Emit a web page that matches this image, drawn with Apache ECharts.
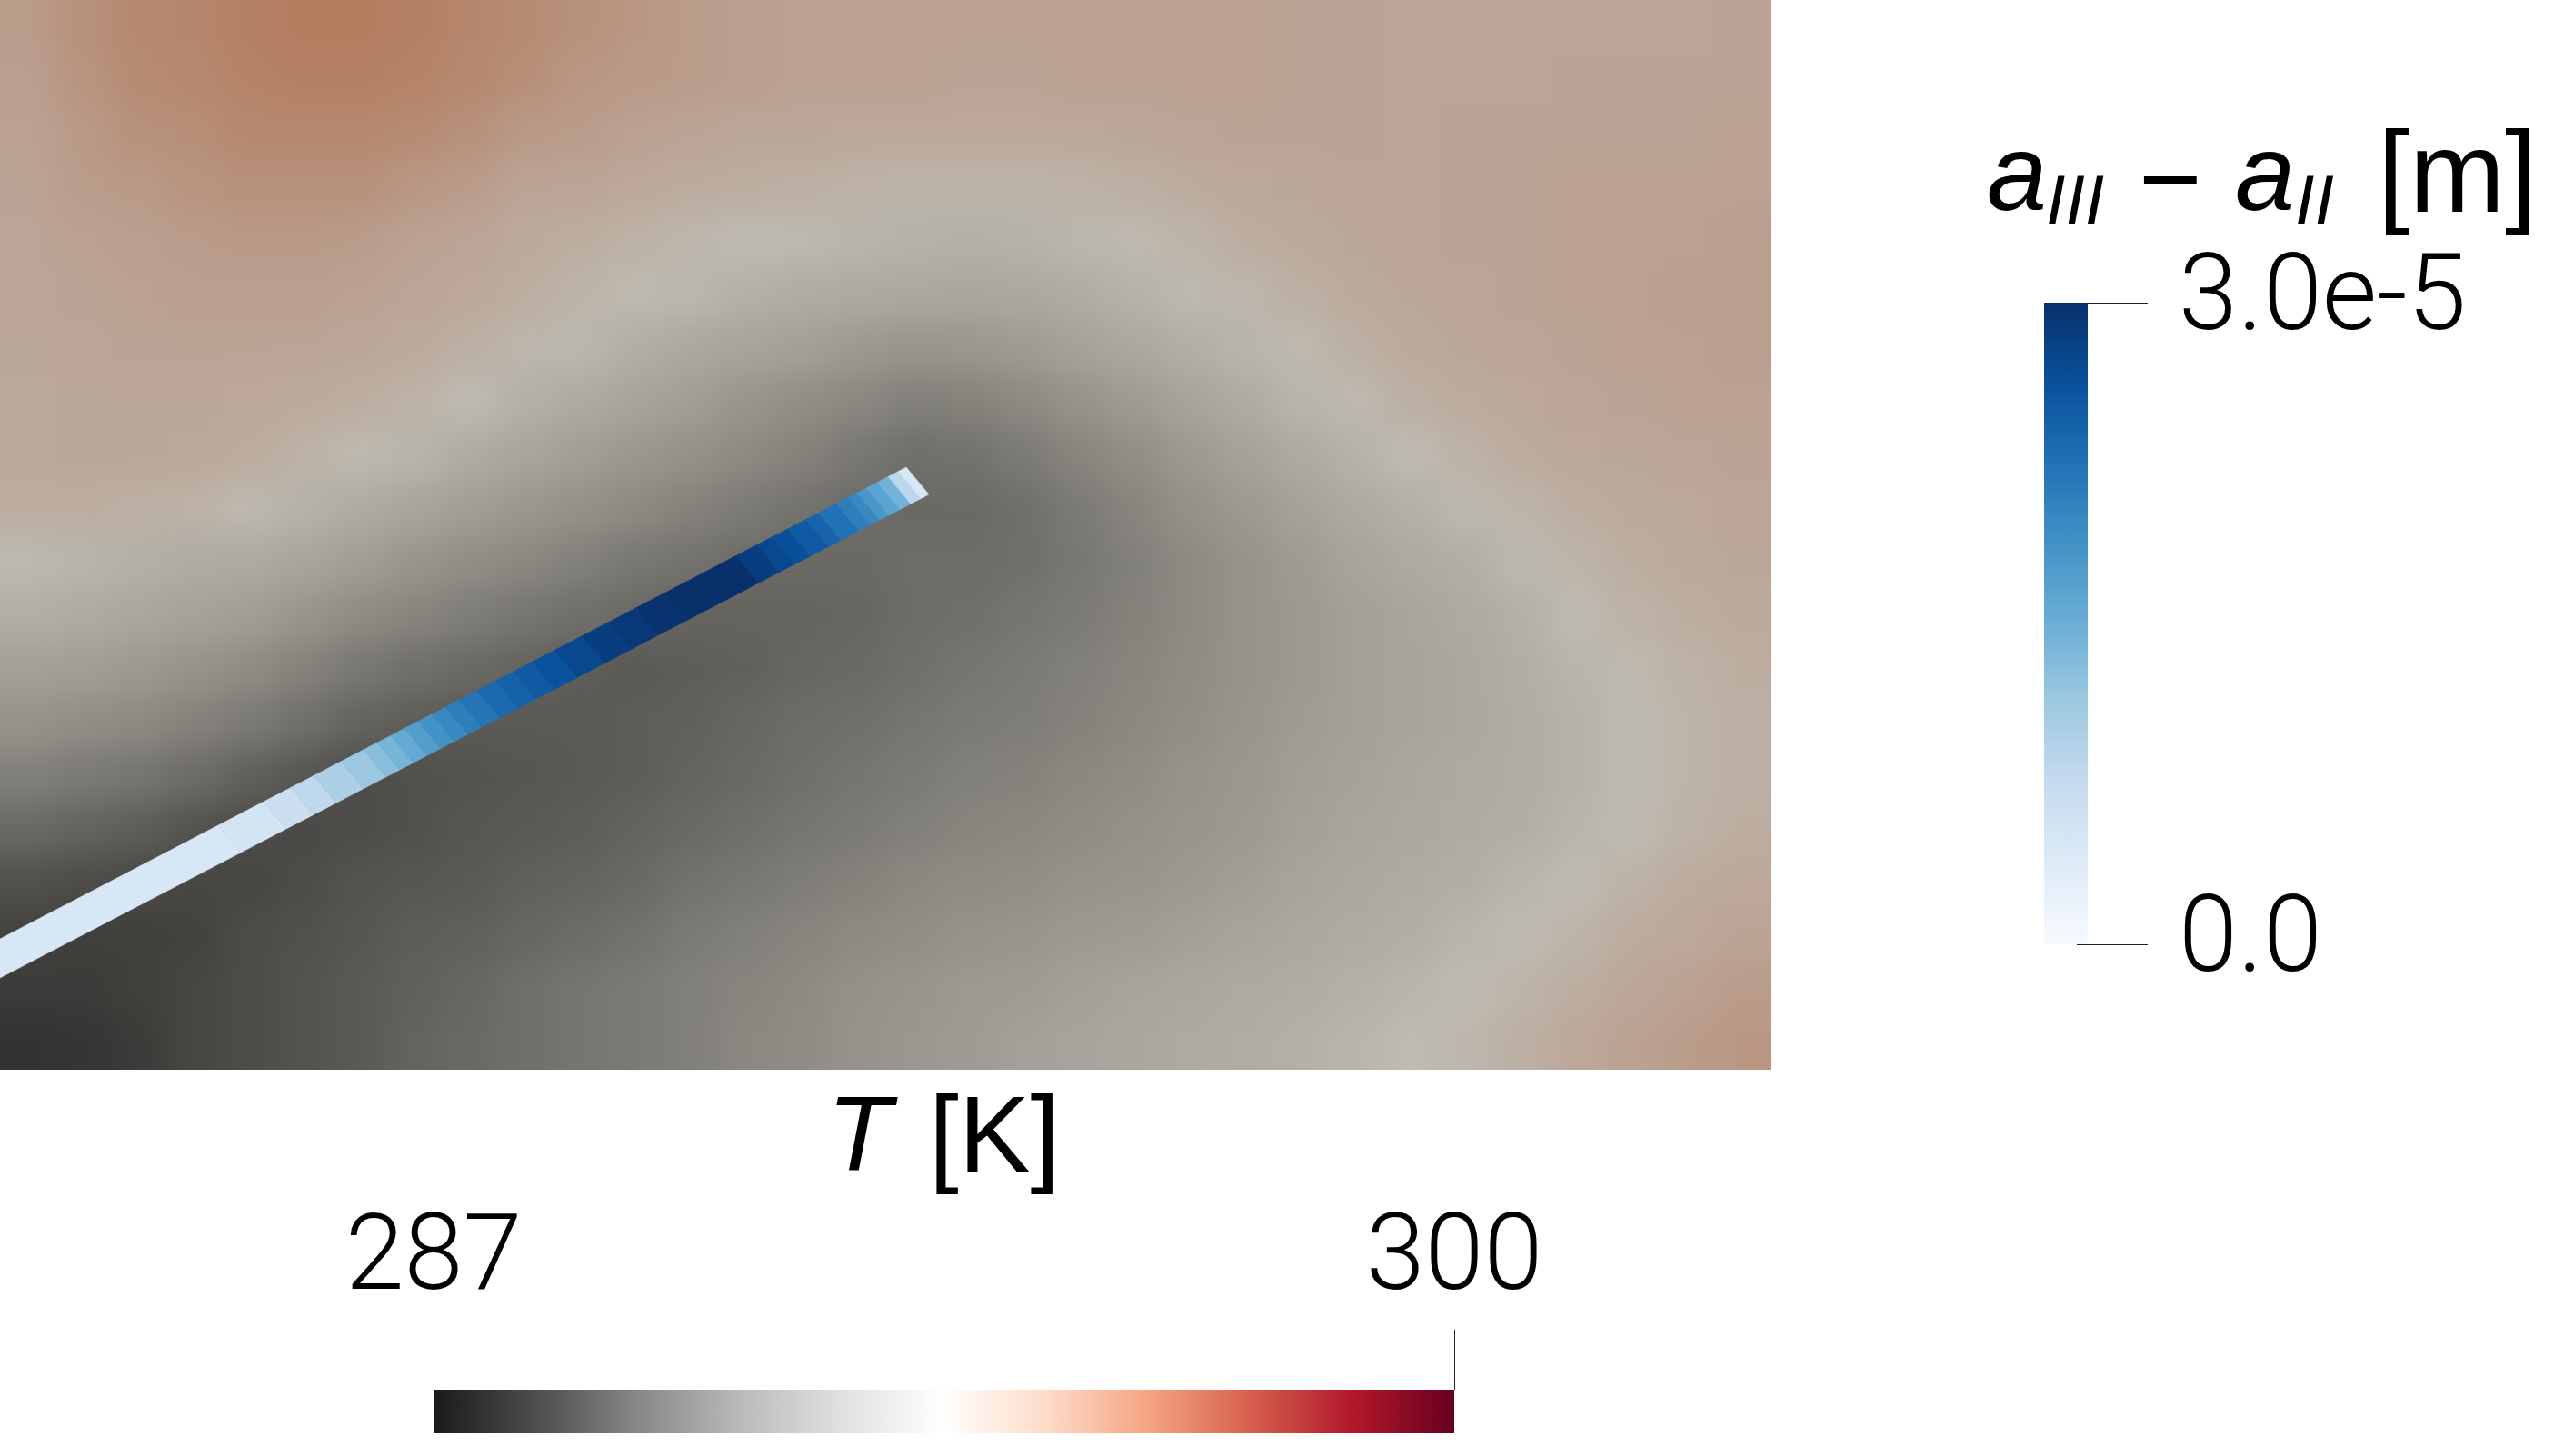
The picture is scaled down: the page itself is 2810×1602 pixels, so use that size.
<!DOCTYPE html>
<html>
<head>
<meta charset="utf-8">
<title>T and crack opening</title>
<script src="https://cdn.jsdelivr.net/npm/echarts@6/dist/echarts.min.js"></script>
<style>
  html, body { margin: 0; padding: 0; background: #fff; }
  #fieldClip { position: absolute; left: 0; top: 0; width: 1948px; height: 1177px; overflow: hidden; }
  /* 网格较粗,模糊一下让温度场看起来连续 */
  #field { position: absolute; left: -80px; top: -80px; width: 2108px; height: 1337px; filter: blur(18px); }
  #overlay { position: absolute; left: 0; top: 0; width: 2810px; height: 1602px; }
</style>
</head>
<body>
<div id="fieldClip"><div id="field"></div></div>
<div id="overlay"></div>
<script>
// 温度场 T [K],每行一个 y,从上到下
const fieldT = [
  [295.0,295.4,295.7,295.8,296.0,296.1,296.1,296.0,295.8,295.6,295.4,295.2,295.0,294.9,294.8,294.8,294.8,294.8,294.8,294.8,294.8,294.8,294.8,294.7,294.7,294.6,294.6,294.6,294.6,294.6,294.6,294.7],
  [294.9,295.3,295.6,295.7,295.9,296.0,296.0,295.9,295.7,295.5,295.2,295.1,295.0,294.9,294.8,294.8,294.8,294.7,294.7,294.8,294.8,294.8,294.8,294.7,294.7,294.6,294.6,294.6,294.7,294.7,294.7,294.7],
  [294.8,295.1,295.4,295.5,295.7,295.7,295.7,295.6,295.4,295.1,295.0,294.8,294.7,294.5,294.5,294.4,294.4,294.4,294.4,294.4,294.5,294.6,294.7,294.7,294.7,294.6,294.7,294.7,294.7,294.7,294.7,294.8],
  [294.7,295.0,295.1,295.3,295.4,295.4,295.4,295.2,295.0,294.7,294.6,294.4,294.2,294.1,294.0,293.9,293.8,293.8,293.8,293.9,294.0,294.2,294.4,294.5,294.6,294.6,294.7,294.7,294.8,294.8,294.8,294.8],
  [294.6,294.8,294.9,295.0,295.1,295.1,295.0,294.8,294.6,294.3,294.1,293.9,293.7,293.5,293.4,293.2,293.1,293.0,293.1,293.3,293.6,293.8,294.1,294.3,294.5,294.6,294.7,294.7,294.8,294.8,294.8,294.9],
  [294.6,294.7,294.8,294.9,294.9,294.9,294.8,294.6,294.4,294.1,293.8,293.6,293.3,293.0,292.8,292.6,292.5,292.4,292.5,292.8,293.1,293.4,293.7,294.0,294.3,294.5,294.6,294.7,294.8,294.8,294.9,294.9],
  [294.5,294.6,294.7,294.7,294.7,294.6,294.5,294.3,294.0,293.7,293.3,292.9,292.5,292.2,292.0,291.7,291.5,291.6,291.8,292.1,292.5,292.9,293.2,293.6,294.0,294.3,294.5,294.6,294.7,294.8,294.8,294.9],
  [294.4,294.5,294.5,294.5,294.4,294.3,294.1,293.9,293.5,293.0,292.6,292.2,291.9,291.5,291.2,290.9,290.6,290.7,291.0,291.4,291.8,292.2,292.7,293.2,293.6,294.0,294.2,294.4,294.6,294.7,294.8,294.8],
  [294.4,294.5,294.5,294.4,294.2,293.9,293.6,293.2,292.7,292.3,291.9,291.6,291.3,291.0,290.7,290.3,290.0,290.1,290.4,290.8,291.2,291.7,292.1,292.6,293.1,293.5,293.9,294.2,294.4,294.5,294.6,294.7],
  [294.1,294.1,294.0,293.9,293.6,293.1,292.7,292.3,291.9,291.6,291.3,291.0,290.7,290.4,290.1,289.9,289.8,289.8,290.0,290.4,290.8,291.3,291.7,292.1,292.6,293.0,293.4,293.8,294.1,294.3,294.4,294.6],
  [293.4,293.2,293.0,292.8,292.6,292.3,291.9,291.5,291.2,290.9,290.6,290.3,290.1,289.9,289.8,289.8,289.9,289.9,290.0,290.3,290.6,291.0,291.4,291.8,292.2,292.6,292.9,293.4,293.8,294.1,294.3,294.5],
  [292.9,292.7,292.4,292.1,291.9,291.5,291.1,290.8,290.5,290.2,290.0,289.8,289.6,289.6,289.6,289.7,289.9,290.0,290.2,290.4,290.7,291.0,291.4,291.7,292.0,292.3,292.6,293.0,293.5,293.9,294.1,294.3],
  [292.0,291.9,291.7,291.4,291.1,290.7,290.3,290.0,289.8,289.6,289.4,289.3,289.4,289.5,289.7,289.8,290.0,290.2,290.4,290.6,290.8,291.1,291.4,291.7,292.0,292.2,292.5,292.9,293.2,293.6,293.9,294.1],
  [291.4,291.2,291.0,290.7,290.4,290.0,289.6,289.4,289.3,289.3,289.3,289.4,289.5,289.7,289.9,290.0,290.2,290.4,290.5,290.7,290.9,291.2,291.5,291.8,292.0,292.2,292.5,292.8,293.1,293.5,293.8,294.0],
  [290.6,290.4,290.2,289.9,289.5,289.2,288.9,289.0,289.1,289.2,289.3,289.4,289.6,289.8,290.0,290.2,290.4,290.6,290.7,290.9,291.1,291.4,291.6,291.9,292.1,292.4,292.6,292.8,293.1,293.5,293.8,294.0],
  [289.8,289.6,289.4,289.1,288.9,288.8,288.9,289.0,289.2,289.3,289.4,289.6,289.8,290.0,290.2,290.4,290.6,290.8,290.9,291.1,291.3,291.5,291.7,292.0,292.3,292.5,292.7,292.9,293.2,293.5,293.9,294.1],
  [289.0,288.9,288.8,288.7,288.7,288.9,289.1,289.2,289.3,289.5,289.6,289.8,290.1,290.3,290.5,290.7,290.9,291.1,291.2,291.4,291.5,291.7,291.9,292.2,292.5,292.7,292.9,293.2,293.5,293.9,294.2,294.4],
  [288.6,288.5,288.5,288.6,288.9,289.0,289.2,289.4,289.5,289.7,289.9,290.1,290.4,290.6,290.8,291.0,291.2,291.4,291.5,291.7,291.8,292.0,292.2,292.5,292.7,292.9,293.2,293.5,293.8,294.2,294.4,294.7],
  [288.4,288.4,288.5,288.7,288.9,289.1,289.3,289.5,289.7,290.0,290.2,290.4,290.6,290.8,291.0,291.3,291.5,291.7,291.8,292.0,292.2,292.4,292.6,292.8,293.0,293.2,293.5,293.8,294.1,294.5,294.8,295.0],
  [288.1,288.2,288.4,288.7,288.9,289.1,289.3,289.6,289.8,290.0,290.2,290.4,290.6,290.9,291.1,291.4,291.6,291.8,292.0,292.2,292.4,292.6,292.8,293.0,293.2,293.5,293.7,294.0,294.4,294.8,295.0,295.2]
];

// 裂缝:上边缘的分段点 x 和每段的开度 [m]
const crackX = [-40,240,290,320,345,375,400,415,430,445,460,475,490,505,525,545,565,585,610,640,670,700,730,780,810,833,850,867,887,900,920,933,943,953,965,977,988,997];
const crackOpening = [0.48e-5,0.54e-5,0.66e-5,0.81e-5,0.99e-5,1.14e-5,1.29e-5,1.41e-5,1.56e-5,1.71e-5,1.86e-5,1.98e-5,2.1e-5,2.22e-5,2.34e-5,2.43e-5,2.52e-5,2.61e-5,2.73e-5,2.85e-5,2.91e-5,2.97e-5,3.0e-5,3.0e-5,2.85e-5,2.73e-5,2.64e-5,2.52e-5,2.4e-5,2.25e-5,2.1e-5,1.98e-5,1.8e-5,1.65e-5,1.44e-5,0.84e-5,0.48e-5];
const crackMouth = [0, 1033];
const crackTip = [997, 514];
const crackCut = [25, 30];

// 色标
const tRange = [287, 300];
const tTicks = [287, 300];
const tColors = ['#1a1a1a','#4d4d4d','#878787','#bababa','#e0e0e0','#ffffff','#fddbc7','#f4a582','#d6604d','#b2182b','#67001f'];
// 场里受光照影响,同一色标整体偏暗
const tColorsLit = ['#131312','#262625','#393836','#4f4e4a','#65635e','#787670','#8b8882','#99968f','#a7a49d','#b0ada5','#bebbb2','#bcac9f','#bba293','#b79079','#b47d60','#aa624b','#9f4635','#922c2a','#85121e','#690a1a','#4d0015'];
const aRange = [0, 3e-5];
const aTicks = [0, 3e-5];
const aTickLabels = ['0.0', '3.0e-5'];
const aColors = ['#f7fbff','#deebf7','#c6dbef','#9ecae1','#6baed6','#4292c6','#2171b5','#08519c','#08306b'];

const titleFont = '"Liberation Sans"';
const tickFont = 'Roboto';
const margin = 80;

function stops(colors) {
  return colors.map((c, i) => ({ offset: i / (colors.length - 1), color: c }));
}

// 温度场
const nRows = fieldT.length;
const nCols = fieldT[0].length;
const fieldData = [];
fieldT.forEach((row, j) => row.forEach((t, i) => fieldData.push([i, j, t])));

const fieldChart = echarts.init(document.getElementById('field'), null, { renderer: 'canvas' });
fieldChart.setOption({
  animation: false,
  grid: { left: margin, top: margin, width: 1948, height: 1177 },
  xAxis: { type: 'category', show: false, data: fieldT[0].map((v, i) => i) },
  yAxis: { type: 'category', show: false, inverse: true, data: fieldT.map((v, j) => j) },
  visualMap: { show: false, min: tRange[0], max: tRange[1], dimension: 2, inRange: { color: tColorsLit } },
  series: [{
    type: 'custom',
    clip: false,
    data: fieldData,
    encode: { x: 0, y: 1 },
    renderItem(params, api) {
      const i = api.value(0);
      const j = api.value(1);
      const c = api.coord([i, j]);
      const s = api.size([1, 1]);
      let x0 = c[0] - s[0] / 2;
      let x1 = c[0] + s[0] / 2 + 1;
      let y0 = c[1] - s[1] / 2;
      let y1 = c[1] + s[1] / 2 + 1;
      // 边上的格子往外铺,模糊时边缘不发白
      if (i === 0) x0 -= margin;
      if (i === nCols - 1) x1 += margin;
      if (j === 0) y0 -= margin;
      if (j === nRows - 1) y1 += margin;
      return {
        type: 'rect',
        shape: { x: x0, y: y0, width: x1 - x0, height: y1 - y0 },
        style: { fill: api.visual('color') }
      };
    }
  }]
});

// 裂缝和两个色标
const crackSlope = (crackTip[1] - crackMouth[1]) / (crackTip[0] - crackMouth[0]);
const crackY = (x) => crackMouth[1] + crackSlope * (x - crackMouth[0]);
const crackData = crackOpening.map((a, i) => [crackX[i], crackX[i + 1], a]);

function txt(text, x, y, size, italic) {
  return {
    type: 'text',
    style: {
      text: text,
      x: x,
      y: y,
      fill: '#000',
      verticalAlign: 'middle',
      font: (italic ? 'italic ' : '') + size + 'px ' + titleFont
    }
  };
}

const overlay = echarts.init(document.getElementById('overlay'), null, { renderer: 'canvas' });
overlay.setOption({
  animation: false,
  grid: [
    { left: 0, top: 0, width: 1948, height: 1177 },
    { left: 477, top: 1529, width: 1123, height: 48 },
    { left: 2249, top: 333, width: 48, height: 706 }
  ],
  xAxis: [
    { gridIndex: 0, type: 'value', show: false, min: 0, max: 1948 },
    {
      gridIndex: 1, type: 'value', position: 'top', min: tRange[0], max: tRange[1],
      splitLine: { show: false },
      axisLine: { show: false, onZero: false },
      axisTick: { show: true, length: 66, customValues: tTicks, lineStyle: { color: '#222', width: 1 } },
      axisLabel: { show: true, customValues: tTicks, margin: 82, color: '#000', fontFamily: tickFont, fontWeight: 300, fontSize: 117 }
    },
    { gridIndex: 2, type: 'value', show: false, min: 0, max: 1 }
  ],
  yAxis: [
    { gridIndex: 0, type: 'value', show: false, inverse: true, min: 0, max: 1177 },
    { gridIndex: 1, type: 'value', show: false, min: 0, max: 1 },
    {
      gridIndex: 2, type: 'value', position: 'right', offset: -12, min: aRange[0], max: aRange[1],
      splitLine: { show: false },
      axisLine: { show: false, onZero: false },
      axisTick: { show: true, length: 78, customValues: aTicks, lineStyle: { color: '#222', width: 1 } },
      axisLabel: {
        show: true, customValues: aTicks, margin: 112, color: '#000', fontFamily: tickFont, fontWeight: 300, fontSize: 117,
        formatter: (v) => aTickLabels[aTicks.indexOf(v)]
      }
    }
  ],
  visualMap: {
    show: false, min: aRange[0], max: aRange[1], dimension: 2, seriesIndex: 0,
    inRange: { color: aColors }
  },
  graphic: [
    txt('a', 2186, 198, 119, true),
    txt('III', 2251, 226, 77, true),
    txt('\u2212', 2353, 205, 119, false),
    txt('a', 2459, 198, 119, true),
    txt('II', 2525, 226, 77, true),
    txt('[m]', 2616, 198, 126, false),
    txt('T', 910, 1256, 116, true),
    txt('[K]', 1022, 1256, 118, false)
  ],
  series: [
    {
      type: 'custom',
      xAxisIndex: 0,
      yAxisIndex: 0,
      data: crackData,
      encode: { x: [0, 1] },
      renderItem(params, api) {
        const a = api.value(0);
        const b = api.value(1);
        const pts = [
          [a, crackY(a)],
          [b, crackY(b)],
          [b + crackCut[0], crackY(b) + crackCut[1]],
          [a + crackCut[0], crackY(a) + crackCut[1]]
        ].map((p) => api.coord(p));
        const color = api.visual('color');
        return {
          type: 'polygon',
          shape: { points: pts },
          style: { fill: color, stroke: color, lineWidth: 0.5 }
        };
      }
    },
    {
      type: 'custom',
      xAxisIndex: 1,
      yAxisIndex: 1,
      data: [tRange],
      encode: { x: [0, 1] },
      renderItem(params, api) {
        const p0 = api.coord([api.value(0), 1]);
        const p1 = api.coord([api.value(1), 0]);
        return {
          type: 'rect',
          shape: { x: p0[0], y: p0[1], width: p1[0] - p0[0], height: p1[1] - p0[1] },
          style: { fill: new echarts.graphic.LinearGradient(0, 0, 1, 0, stops(tColors)) }
        };
      }
    },
    {
      type: 'custom',
      xAxisIndex: 2,
      yAxisIndex: 2,
      data: [aRange],
      encode: { y: [0, 1] },
      renderItem(params, api) {
        const p0 = api.coord([0, api.value(1)]);
        const p1 = api.coord([1, api.value(0)]);
        return {
          type: 'rect',
          shape: { x: p0[0], y: p0[1], width: p1[0] - p0[0], height: p1[1] - p0[1] },
          style: { fill: new echarts.graphic.LinearGradient(0, 1, 0, 0, stops(aColors)) }
        };
      }
    }
  ]
});
</script>
</body>
</html>
